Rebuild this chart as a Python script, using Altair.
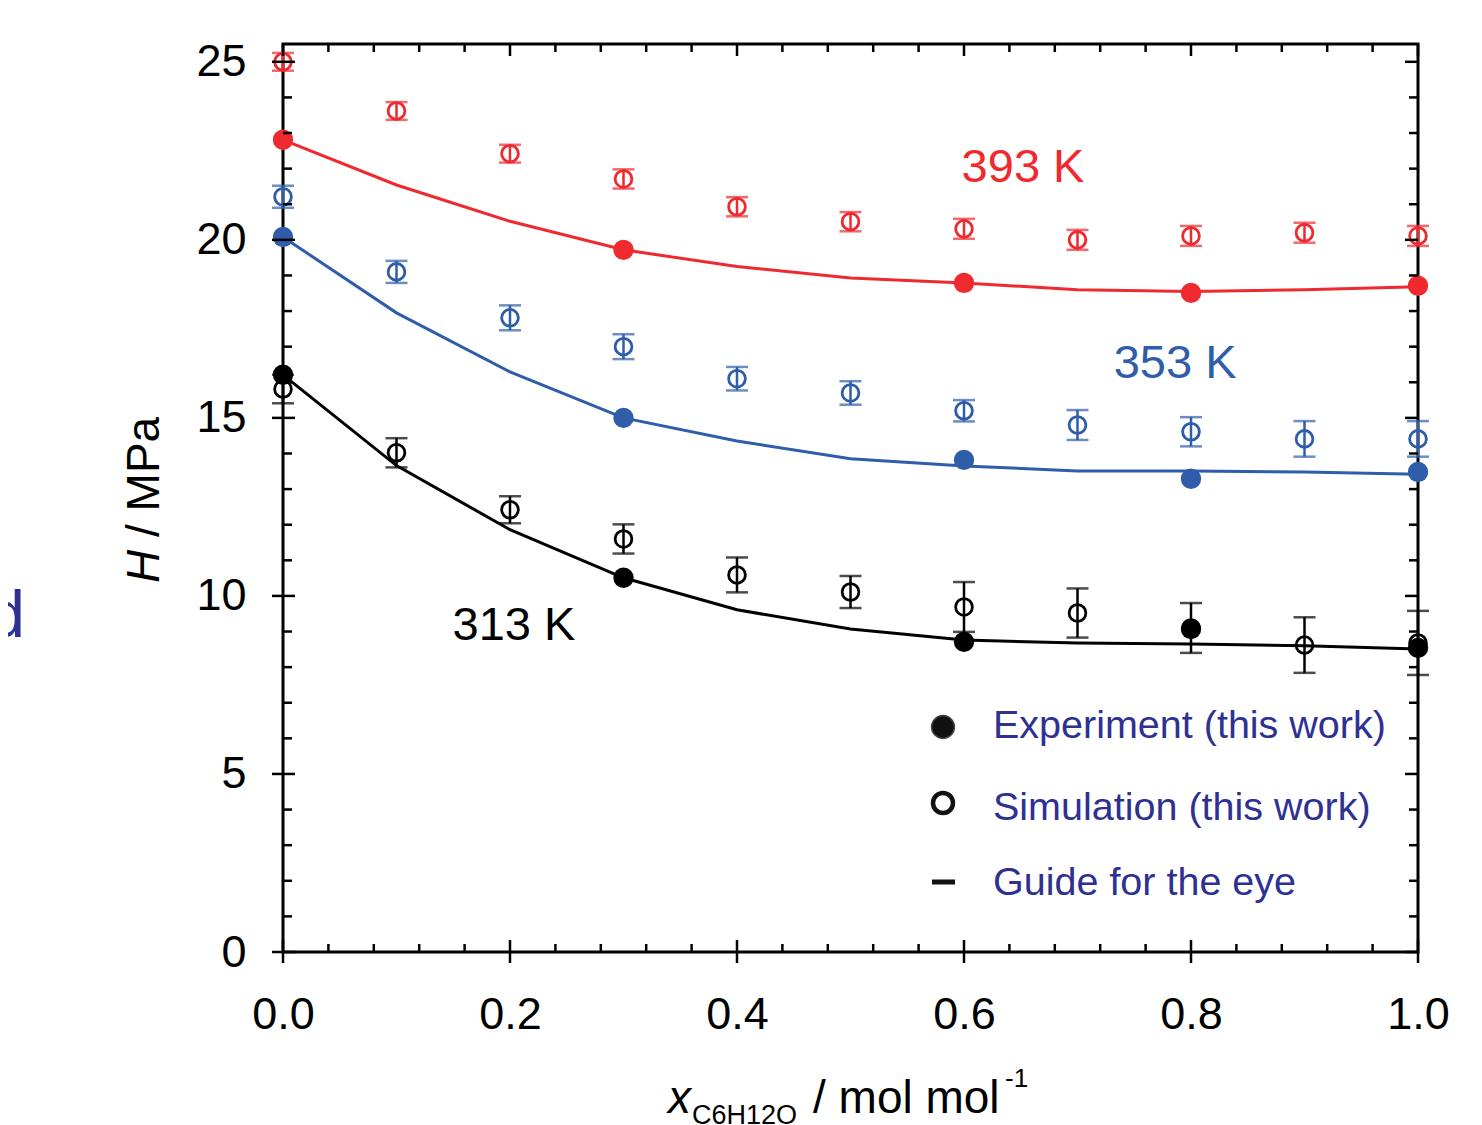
import altair as alt
import pandas as pd

FONT = "Liberation Sans"

# ---------------- data ----------------
temps = ["313 K", "353 K", "393 K"]
colors = ["#000000", "#2F5DAA", "#EE2A2F"]

x_guide = [0.0, 0.1, 0.2, 0.3, 0.4, 0.5, 0.6, 0.7, 0.8, 0.9, 1.0]
guide_393 = [22.81, 21.54, 20.52, 19.72, 19.25, 18.93, 18.79, 18.60, 18.55, 18.60, 18.68]
guide_353 = [20.08, 17.95, 16.29, 15.00, 14.35, 13.85, 13.65, 13.51, 13.51, 13.48, 13.42]
guide_313 = [16.21, 13.66, 11.86, 10.51, 9.61, 9.07, 8.76, 8.68, 8.65, 8.60, 8.51]

x_exp = [0.0, 0.3, 0.6, 0.8, 1.0]
exp_393 = [22.81, 19.72, 18.79, 18.51, 18.71]
exp_353 = [20.08, 15.00, 13.82, 13.29, 13.48]
exp_313 = [16.21, 10.51, 8.71, 9.07, 8.54]

x_sim = [0.0, 0.1, 0.2, 0.3, 0.4, 0.5, 0.6, 0.7, 0.8, 0.9, 1.0]
sim_393 = [25.00, 23.62, 22.42, 21.71, 20.93, 20.51, 20.31, 20.00, 20.11, 20.20, 20.11]
err_393 = [0.25, 0.25, 0.25, 0.27, 0.27, 0.27, 0.28, 0.28, 0.28, 0.28, 0.28]
sim_353 = [21.21, 19.10, 17.81, 17.00, 16.10, 15.70, 15.20, 14.80, 14.61, 14.41, 14.41]
err_353 = [0.31, 0.31, 0.35, 0.35, 0.33, 0.33, 0.30, 0.42, 0.41, 0.50, 0.50]
sim_313 = [15.81, 14.02, 12.42, 11.60, 10.59, 10.11, 9.69, 9.52, 9.10, 8.62, 8.68]
err_313 = [0.40, 0.41, 0.38, 0.41, 0.49, 0.45, 0.70, 0.69, 0.70, 0.78, 0.90]

x_labels = [0.0, 0.2, 0.4, 0.6, 0.8, 1.0]
y_labels = [0, 5, 10, 15, 20, 25]
x_minor = [round(i * 0.04, 2) for i in range(26) if i % 5 != 0]
y_minor = [v for v in range(26) if v % 5 != 0]

label_pos = {"393 K": (0.652, 21.63), "353 K": (0.786, 16.12), "313 K": (0.2035, 8.76)}
legend_labels = ["Experiment (this work)", "Simulation (this work)", "Guide for the eye"]

W, H = 1135, 908

# ---------------- tables ----------------
guide_df = pd.concat([
    pd.DataFrame({"x": x_guide, "H": g, "T": t})
    for t, g in zip(temps, [guide_313, guide_353, guide_393])
])
exp_df = pd.concat([
    pd.DataFrame({"x": x_exp, "H": e, "T": t})
    for t, e in zip(temps, [exp_313, exp_353, exp_393])
])
sim_df = pd.concat([
    pd.DataFrame({"x": x_sim, "H": s, "err": er, "T": t})
    for t, s, er in zip(temps, [sim_313, sim_353, sim_393], [err_313, err_353, err_393])
])
sim_df["lo"] = sim_df["H"] - sim_df["err"]
sim_df["hi"] = sim_df["H"] + sim_df["err"]
lab_df = pd.DataFrame({
    "T": list(label_pos.keys()),
    "x": [v[0] for v in label_pos.values()],
    "H": [v[1] for v in label_pos.values()],
})

xs = alt.Scale(domain=[0, 1], nice=False, zero=False)
ys = alt.Scale(domain=[0, 25.5], nice=False, zero=False)
cs = alt.Scale(domain=temps, range=colors)

X = alt.X("x:Q", scale=xs, title=None,
          axis=alt.Axis(values=x_labels, format=".1f", labelFontSize=45, labelFont=FONT,
                        labelColor="black", labelPadding=40, ticks=False, domain=False,
                        grid=False, labelFlush=False, labelOverlap=False))
Y = alt.Y("H:Q", scale=ys, title=None,
          axis=alt.Axis(values=y_labels, format="d", labelFontSize=45, labelFont=FONT,
                        labelColor="black", labelPadding=37, ticks=False, domain=False,
                        grid=False, labelFlush=False, labelOverlap=False))
C = alt.Color("T:N", scale=cs, legend=None)


def qx(f):
    return alt.X(f, scale=xs, title=None)


def qy(f):
    return alt.Y(f, scale=ys, title=None)


guide = alt.Chart(guide_df).mark_line(strokeWidth=3).encode(x=X, y=Y, color=C)
err = alt.Chart(sim_df).mark_rule(strokeWidth=2.5).encode(
    x=qx("x:Q"), y=qy("lo:Q"), y2="hi:Q", color=C)
cap_lo = alt.Chart(sim_df).mark_tick(orient="horizontal", size=22, thickness=2.5).encode(
    x=qx("x:Q"), y=qy("lo:Q"), color=C)
cap_hi = alt.Chart(sim_df).mark_tick(orient="horizontal", size=22, thickness=2.5).encode(
    x=qx("x:Q"), y=qy("hi:Q"), color=C)
sim = alt.Chart(sim_df).mark_point(shape="circle", filled=False, size=280, strokeWidth=2.8,
                                   opacity=1).encode(x=qx("x:Q"), y=qy("H:Q"), color=C)
exp = alt.Chart(exp_df).mark_circle(size=415, opacity=1).encode(
    x=qx("x:Q"), y=qy("H:Q"), color=C)
labels = alt.Chart(lab_df).mark_text(fontSize=47, font=FONT, align="center",
                                     baseline="alphabetic").encode(
    x=qx("x:Q"), y=qy("H:Q"), text="T:N", color=C)


# ---------------- frame ticks ----------------
def yticks(vals, x0, x1):
    return alt.Chart(pd.DataFrame({"H": vals})).mark_rule(strokeWidth=2.5, color="black").encode(
        y=qy("H:Q"), x=alt.value(x0), x2=alt.value(x1))


def xticks(vals, y0, y1):
    return alt.Chart(pd.DataFrame({"x": vals})).mark_rule(strokeWidth=2.5, color="black").encode(
        x=qx("x:Q"), y=alt.value(y0), y2=alt.value(y1))


ticks = [
    yticks(y_labels, -11, 12), yticks(y_minor, 0, 9),
    yticks(y_labels, W - 13, W), yticks(y_minor, W - 9, W),
    xticks(x_labels, H - 12, H + 11), xticks(x_minor, H - 8, H),
    xticks(x_labels, 0, 12), xticks(x_minor, 0, 8),
]


# ---------------- text annotations ----------------
def txt(s, x, y, size, color="black", align="left", baseline="alphabetic", angle=0, style="normal"):
    return alt.Chart(pd.DataFrame({"t": [s]})).mark_text(
        fontSize=size, font=FONT, align=align, baseline=baseline, angle=angle,
        fontStyle=style, color=color).encode(text="t:N", x=alt.value(x), y=alt.value(y))


LEG = "#2E3192"
texts = [
    txt("x", 385, 1069, 46, style="italic"),
    txt("C6H12O", 409, 1080, 27),
    txt("/ mol mol", 530, 1069, 46),
    txt("-1", 722, 1043, 26),
    txt("H", -138, 539, 46, baseline="middle", angle=270, style="italic"),
    txt("/ MPa", -138, 493, 46, baseline="middle", angle=270),
    txt("d", -258, 593, 66, color=LEG, align="right"),
    txt(legend_labels[0], 710, 694, 39.5, color=LEG),
    txt(legend_labels[1], 710, 776, 39.5, color=LEG),
    txt(legend_labels[2], 710, 851, 39.5, color=LEG),
]

one = pd.DataFrame({"a": [0]})
leg_fill = alt.Chart(one).mark_point(shape="circle", filled=True, size=520, color="#111111",
                                     opacity=1, stroke="#444444", strokeWidth=1.5).encode(
    x=alt.value(660), y=alt.value(683))
leg_open = alt.Chart(one).mark_point(shape="circle", filled=False, size=400, color="#111111",
                                     strokeWidth=4.5, opacity=1).encode(
    x=alt.value(660), y=alt.value(759))
leg_dash = alt.Chart(one).mark_rule(strokeWidth=5, color="#111111").encode(
    x=alt.value(649), x2=alt.value(672), y=alt.value(838))

chart = alt.layer(
    guide, err, cap_lo, cap_hi, sim, exp, labels, *ticks, *texts, leg_fill, leg_open, leg_dash
).properties(
    width=W, height=H,
    autosize=alt.AutoSizeParams(type="none"),
    padding={"left": 275, "top": 36, "right": 56, "bottom": 173},
    background="white",
).configure_view(stroke="black", strokeWidth=3)

chart.save("out.html", embed_options={"renderer": "svg", "actions": False})
